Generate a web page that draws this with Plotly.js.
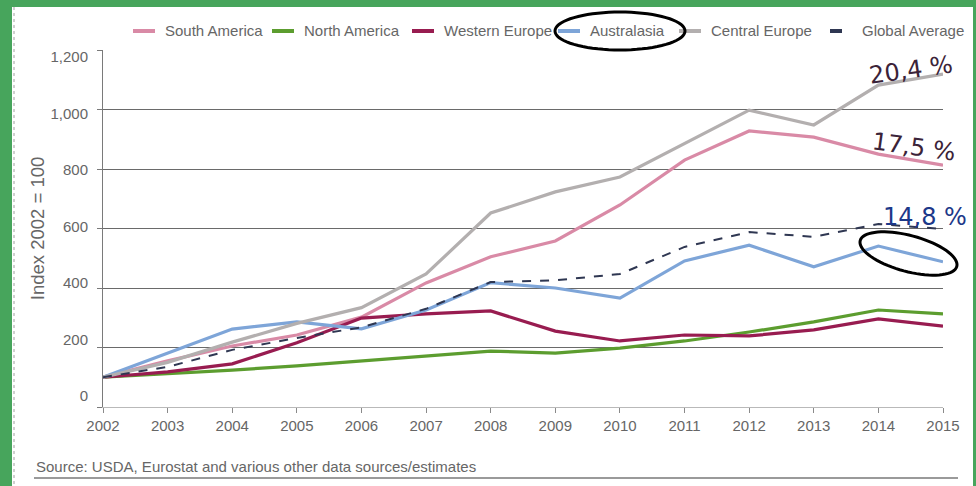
<!DOCTYPE html>
<html>
<head>
<meta charset="utf-8">
<script src="https://cdn.plot.ly/plotly-3.0.1.min.js"></script>
<style>
  html, body { margin: 0; padding: 0; background: #47a55c; width: 976px; height: 486px; overflow: hidden; }
  #chart { position: absolute; left: 12px; top: 7px; width: 961px; height: 479px; background: #ffffff; }
</style>
</head>
<body>
<div id="chart"></div>
<script>
// ---- data ----
const years = [2002, 2003, 2004, 2005, 2006, 2007, 2008, 2009, 2010, 2011, 2012, 2013, 2014, 2015];
const yearLabels = ["2002","2003","2004","2005","2006","2007","2008","2009","2010","2011","2012","2013","2014","2015"];
const southAmerica   = [100, 155, 205, 242, 302, 417, 505, 558, 679, 830, 928, 907, 850, 813];
const northAmerica   = [100, 111, 124, 138, 155, 171, 188, 181, 198, 222, 252, 286, 326, 313];
const westernEurope  = [100, 118, 145, 216, 299, 313, 323, 255, 222, 242, 239, 259, 296, 272];
const australasia    = [100, 182, 262, 286, 263, 326, 418, 400, 366, 491, 544, 471, 541, 488];
const centralEurope  = [100, 150, 218, 281, 334, 447, 652, 723, 773, 887, 998, 948, 1082, 1119];
const globalAverage  = [100, 135, 192, 232, 268, 330, 420, 426, 447, 538, 588, 572, 615, 598];
const yTickValues = [0, 200, 400, 600, 800, 1000, 1200];
const yTickLabels = ["0", "200", "400", "600", "800", "1,000", "1,200"];
const seriesNames = ["South America", "North America", "Western Europe", "Australasia", "Central Europe", "Global Average"];
const growthLabels = ["20,4 %", "17,5 %", "14,8 %"];
const sourceText = "Source: USDA, Eurostat and various other data sources/estimates";
const yTitle = "Index 2002 = 100";

// ---- styling ----
const sans = "Liberation Sans, Arial, Helvetica, sans-serif";
const grey = "#666666";
const colors = ["#d98aa6", "#5c9d2f", "#981c50", "#7ea5d8", "#b3afaf", "#2f3752"];
const allSeries = [southAmerica, northAmerica, westernEurope, australasia, centralEurope, globalAverage];
const legendTextLeft = [163, 302, 442, 588, 709, 860]; // image px where each legend label starts

const traces = allSeries.map((vals, i) => ({
  type: "scatter",
  mode: "lines",
  x: years,
  y: vals,
  name: seriesNames[i],
  showlegend: false,
  line: { color: colors[i], width: i === 5 ? 2 : 3.2, dash: i === 5 ? "dash" : "solid" }
}));

// plot-area geometry inside the 961x479 div
const L = 91, T = 43, W = 840, H = 357;
function toPaper(ix, iy) { // image pixel -> paper coords
  const dx = ix - 12, dy = iy - 7;
  return [(dx - L) / W, (T + H - dy) / H];
}
function ellipsePath(cx, cy, a, b, deg) {
  const th = deg * Math.PI / 180;
  let d = "";
  for (let k = 0; k <= 72; k++) {
    const t = 2 * Math.PI * k / 72;
    const x = cx + a * Math.cos(t) * Math.cos(th) - b * Math.sin(t) * Math.sin(th);
    const y = cy + a * Math.cos(t) * Math.sin(th) + b * Math.sin(t) * Math.cos(th);
    const p = toPaper(x, y);
    d += (k === 0 ? "M" : "L") + p[0].toFixed(5) + "," + p[1].toFixed(5);
  }
  return d + "Z";
}

const pA = toPaper(911, 70), pB = toPaper(914, 147), pC = toPaper(925, 217);
const pSrc = toPaper(34, 466);
const lineY = toPaper(0, 478)[1];
const lx0 = toPaper(34, 0)[0], lx1 = toPaper(958, 0)[0];
const dotX = toPaper(14, 0)[0];
const legY = toPaper(0, 31)[1];

const shapes = [];
const annotations = [];

// custom legend row (line sample + label for each series)
seriesNames.forEach((nm, i) => {
  const x0 = toPaper(legendTextLeft[i] - 30, 0)[0];
  const x1 = toPaper(legendTextLeft[i] - 8, 0)[0];
  shapes.push({ type: "line", xref: "paper", yref: "paper", x0: x0, x1: x1, y0: legY, y1: legY,
    line: { color: colors[i], width: 4, dash: i === 5 ? "dash" : "solid" } });
  annotations.push({ xref: "paper", yref: "paper", x: toPaper(legendTextLeft[i], 0)[0], y: legY,
    xanchor: "left", yanchor: "middle", text: nm, showarrow: false,
    font: { family: sans, size: 15, color: grey } });
});

shapes.push(
  { type: "path", xref: "paper", yref: "paper", path: ellipsePath(620, 31, 65, 19, 0), line: { color: "#000000", width: 3 } },
  { type: "path", xref: "paper", yref: "paper", path: ellipsePath(908.5, 253.5, 50, 18, 15), line: { color: "#000000", width: 3 } },
  { type: "line", xref: "paper", yref: "paper", x0: lx0, x1: lx1, y0: lineY, y1: lineY, line: { color: "#9a9a9a", width: 2 } },
  { type: "line", xref: "paper", yref: "paper", x0: dotX, x1: dotX, y0: toPaper(0, 7)[1], y1: toPaper(0, 486)[1], line: { color: "#a0a0a0", width: 1, dash: "dot" } }
);

const pctFont = "DejaVu Sans, Verdana, sans-serif";
annotations.push(
  { xref: "paper", yref: "paper", x: pA[0], y: pA[1], xanchor: "center", yanchor: "middle", text: growthLabels[0], showarrow: false, textangle: -8,
    font: { family: pctFont, size: 24, color: "#3b2338" } },
  { xref: "paper", yref: "paper", x: pB[0], y: pB[1], xanchor: "center", yanchor: "middle", text: growthLabels[1], showarrow: false, textangle: 8,
    font: { family: pctFont, size: 24, color: "#3b2338" } },
  { xref: "paper", yref: "paper", x: pC[0], y: pC[1], xanchor: "center", yanchor: "middle", text: growthLabels[2], showarrow: false, textangle: 0,
    font: { family: pctFont, size: 24, color: "#1c3889" } },
  { xref: "paper", yref: "paper", x: pSrc[0], y: pSrc[1], xanchor: "left", yanchor: "middle", text: sourceText, showarrow: false,
    font: { family: sans, size: 15, color: grey } }
);

const layout = {
  width: 961, height: 479,
  margin: { l: L, r: 961 - L - W, t: T, b: 479 - T - H, pad: 0 },
  paper_bgcolor: "#ffffff",
  plot_bgcolor: "#ffffff",
  showlegend: false,
  xaxis: {
    range: [2002, 2015], tickvals: years, ticktext: yearLabels,
    tickfont: { family: sans, size: 15, color: grey },
    showgrid: false, zeroline: false,
    showline: true, linecolor: "#b9b9b9", linewidth: 1,
    ticks: "outside", ticklen: 5, tickcolor: "#8a8a8a", tickwidth: 1
  },
  yaxis: {
    range: [0, 1200], tickvals: yTickValues, showticklabels: false,
    showgrid: true, gridcolor: "#6a6a6a", gridwidth: 1, zeroline: false,
    showline: true, linecolor: "#7a7a7a", linewidth: 1,
    ticks: "outside", ticklen: 5, tickcolor: "#7a7a7a"
  },
  yaxis2: {
    overlaying: "y", side: "left", anchor: "x",
    range: [-38.9, 1224.8], tickvals: yTickValues, ticktext: yTickLabels,
    tickfont: { family: sans, size: 15, color: grey },
    showgrid: false, zeroline: false, showline: false, ticks: "",
    ticklabelstandoff: 14,
    title: { text: yTitle, font: { family: sans, size: 18.5, color: grey }, standoff: 0 }
  },
  shapes: shapes,
  annotations: annotations
};

// an empty trace on the label axis so that it is drawn
traces.push({ type: "scatter", mode: "lines", x: [years[0]], y: [null], yaxis: "y2", showlegend: false, hoverinfo: "skip" });

Plotly.newPlot("chart", traces, layout, { displayModeBar: false, staticPlot: true });
</script>
</body>
</html>
